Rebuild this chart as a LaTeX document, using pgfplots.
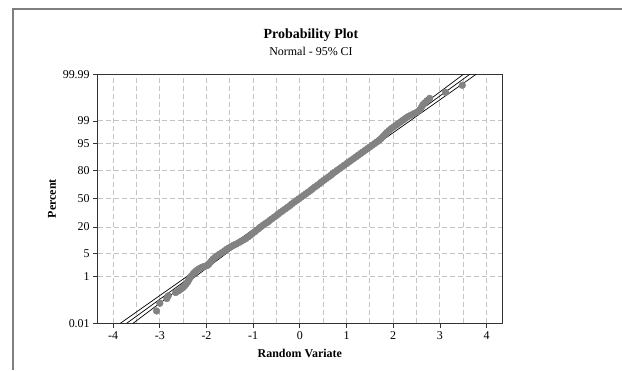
\documentclass[border=0pt]{standalone}
\usepackage{fontspec}
\setmainfont{Liberation Serif}
\usepackage{pgfplots}
\pgfplotsset{compat=1.18}
\definecolor{framec}{HTML}{7F7F7F}
\definecolor{pts}{HTML}{828282}
\definecolor{gridc}{HTML}{C4C4C4}
\definecolor{axc}{HTML}{333333}
\begin{document}
\begin{tikzpicture}[x=1bp,y=1bp]
\useasboundingbox (0,0) rectangle (622,370);
\draw[framec, line width=1.3bp] (13,0) -- (13,361) -- (622,361);
\node[font=\fontsize{14}{16}\selectfont\bfseries] at (311,335) {Probability Plot};
\node[font=\fontsize{12}{14}\selectfont] at (311,318.3) {Normal - 95\% CI};
\begin{axis}[
  at={(97.7bp,46.7bp)}, anchor=south west, scale only axis,
  width=404.3bp, height=249bp,
  xmin=-4.33, xmax=4.33, ymin=-3.719, ymax=3.719,
  xtick={-4,...,4}, xticklabels={-4,-3,-2,-1,0,1,2,3,4},
  minor xtick={-3.5,-2.5,-1.5,-0.5,0.5,1.5,2.5,3.5},
  ytick={-3.719,-2.326,-1.645,-0.8416,0,0.8416,1.645,2.326,3.719},
  yticklabels={0.01,1,5,20,50,80,95,99,99.99},
  xmajorgrids, xminorgrids, ymajorgrids,
  grid style={gridc, dash pattern=on 5bp off 3bp, line width=0.9bp},
  minor grid style={gridc, dash pattern=on 5bp off 3bp, line width=0.9bp},
  tick align=outside, tick pos=left,
  major tick length=4.5bp, minor tick length=0pt,
  tick style={axc, line width=0.8bp},
  axis line style={axc, line width=1bp},
  ticklabel style={font=\fontsize{12}{14}\selectfont},
  xlabel={Random Variate}, ylabel={Percent},
  xlabel style={font=\fontsize{12}{14}\selectfont\bfseries, at={(axis description cs:0.5,-0.1205)}, anchor=center},
  ylabel style={font=\fontsize{12}{14}\selectfont\bfseries, at={(axis description cs:-0.113,0.5)}, anchor=center},
]
\addplot[black, line width=0.7bp] coordinates {(-3.709,-3.719) (3.639,3.719)};
\addplot[black, line width=0.7bp, smooth] coordinates {
(-3.845,-3.719) (-3.113,-3) (-2.603,-2.5) (-2.095,-2) (-1.588,-1.5) (-1.082,-1) (-0.580,-0.5) (-0.083,0)
(0.408,0.5) (0.894,1) (1.376,1.5) (1.857,2) (2.337,2.5) (2.815,3) (3.503,3.719)};
\addplot[black, line width=0.7bp, smooth] coordinates {
(-3.573,-3.719) (-2.885,-3) (-2.407,-2.5) (-1.927,-2) (-1.446,-1.5) (-0.964,-1) (-0.478,-0.5) (0.013,0)
(0.510,0.5) (1.012,1) (1.518,1.5) (2.025,2) (2.533,2.5) (3.043,3) (3.775,3.719)};
\addplot[only marks, mark=*, mark size=3.4bp, pts, mark options={draw=pts, fill=pts}] table {
x z
-3.07 -3.35
-3.00 -3.12
-2.85 -2.98
-2.82 -2.90
-2.66 -2.80
-2.60 -2.75
-2.55 -2.70
-2.50 -2.65
-2.47 -2.60
-2.44 -2.55
-2.41 -2.50
-2.39 -2.45
-2.37 -2.40
-2.35 -2.35
-2.32 -2.30
-2.29 -2.25
-2.26 -2.20
-2.22 -2.15
-2.17 -2.10
-2.12 -2.06
-2.07 -2.03
-2.02 -2.01
-1.98 -1.99
-1.95 -1.95
-1.92 -1.90
-1.89 -1.85
-1.86 -1.80
-1.82 -1.75
-1.77 -1.70
-1.72 -1.65
-1.66 -1.60
-1.61 -1.55
-1.56 -1.50
-1.51 -1.46
-1.46 -1.42
-1.41 -1.38
-1.36 -1.35
-1.31 -1.31
-1.26 -1.27
-1.21 -1.23
-1.16 -1.19
-1.11 -1.14
-1.06 -1.09
-1.02 -1.04
-0.97 -0.99
-0.93 -0.94
-0.88 -0.89
-0.84 -0.84
-0.79 -0.79
-0.74 -0.74
-0.69 -0.70
-0.65 -0.65
-0.60 -0.60
-0.55 -0.55
-0.50 -0.50
-0.46 -0.45
-0.41 -0.40
-0.36 -0.35
-0.31 -0.30
-0.26 -0.25
-0.21 -0.20
-0.17 -0.15
-0.12 -0.10
-0.07 -0.05
-0.02 0.00
0.03 0.05
0.08 0.10
0.13 0.15
0.18 0.20
0.23 0.25
0.27 0.30
0.32 0.35
0.37 0.40
0.42 0.45
0.46 0.50
0.51 0.55
0.56 0.60
0.61 0.65
0.66 0.70
0.70 0.75
0.75 0.80
0.80 0.85
0.85 0.90
0.90 0.95
0.95 1.00
1.00 1.05
1.05 1.10
1.10 1.15
1.15 1.20
1.20 1.25
1.25 1.30
1.30 1.35
1.35 1.40
1.40 1.45
1.45 1.50
1.50 1.55
1.55 1.60
1.60 1.65
1.65 1.70
1.70 1.75
1.74 1.80
1.78 1.86
1.82 1.92
1.86 1.98
1.91 2.04
1.96 2.10
2.01 2.15
2.06 2.20
2.11 2.25
2.16 2.30
2.21 2.35
2.26 2.40
2.31 2.45
2.38 2.50
2.45 2.55
2.52 2.60
2.57 2.66
2.60 2.72
2.63 2.80
2.67 2.86
2.72 2.93
2.78 3.00
3.12 3.18
3.48 3.39
};
\end{axis}
\end{tikzpicture}
\end{document}
